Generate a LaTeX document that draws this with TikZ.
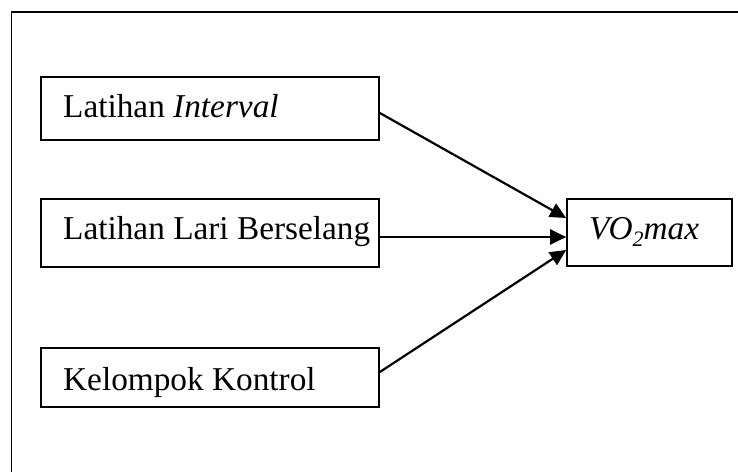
\documentclass[tikz,border=0pt]{standalone}
\usepackage{fontspec}
\setmainfont{Liberation Serif}
\usetikzlibrary{arrows.meta}
\begin{document}
\begin{tikzpicture}[x=1pt,y=-1pt,
  box/.style={draw,line width=1.7pt,rectangle,inner sep=0pt},
  lbl/.style={anchor=base west,inner sep=0pt,font=\fontsize{33.3}{40}\selectfont},
  arr/.style={line width=2.2pt,-{Triangle[length=16pt,width=15pt]}}]
\useasboundingbox (0,0) rectangle (738,471);
% outer frame (open at right and bottom)
\coordinate (fbl) at (11.5,475);
\coordinate (ftl) at (11.5,12);
\coordinate (ftr) at (742,12);
\draw[line width=1.8pt] (fbl) -- (ftl) -- (ftr);
% boxes
\node[box,minimum width=338pt,minimum height=63pt] (b1) at (210,108.5) {};
\node[box,minimum width=338pt,minimum height=68pt] (b2) at (210,233) {};
\node[box,minimum width=338pt,minimum height=59pt] (b3) at (210,377.5) {};
\node[box,minimum width=165pt,minimum height=67pt] (v) at (649.5,232.5) {};
% labels
\node[lbl] (t1) at (63,117) {Latihan \textit{Interval}};
\node[lbl] (t2) at (63,239) {Latihan Lari Berselang};
\node[lbl] (t3) at (63,390) {Kelompok Kontrol};
\node[lbl] (t4) at (589,239) {\textit{VO\raisebox{-0.22em}{\fontsize{22}{22}\selectfont 2}max}};
% connectors
\draw[arr] ([yshift=-4.5pt]b1.east) -- ([yshift=14.5pt]v.west);
\draw[arr] ([yshift=-4pt]b2.east) -- ([yshift=-4.5pt]v.west);
\draw[arr] ([yshift=5.5pt]b3.east) -- ([yshift=-17.5pt]v.west);
\end{tikzpicture}
\end{document}
